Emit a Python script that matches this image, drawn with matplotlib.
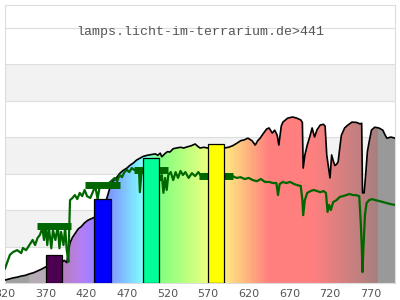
#!/usr/bin/env python3
# -*- coding: utf-8 -*-

import numpy as np
import matplotlib
matplotlib.use("Agg")
import matplotlib.pyplot as plt


# DATA (arbitrary units)
title = "lamps.licht-im-terrarium.de>441"

# reference spectrum (outlined, coloured by wavelength)
sun_nm = [320, 325, 330, 335, 340, 345, 350, 355, 360, 365, 370, 375, 380, 385,
          390, 393, 396, 398, 400, 403, 406, 410, 414, 418, 422, 426, 430, 435,
          440, 445, 449, 453, 457, 461, 465, 470, 474, 478, 482, 486, 490, 495,
          500, 505, 508, 511, 513, 517, 520, 523, 527, 531, 536, 540, 544, 549,
          554, 557, 560, 565, 569, 575, 580, 585, 590, 595, 600, 606, 610, 614,
          619, 624, 628, 631, 634, 638, 642, 645, 649, 652, 655, 657, 660, 662,
          668, 674, 679, 684, 686, 687, 689, 692, 695, 698, 701, 704, 708, 712,
          714, 716, 718, 720, 722, 724, 726, 728, 730, 732, 734, 738, 742, 747,
          753, 757, 759, 760, 762, 764, 766, 768, 771, 775, 780, 785, 788, 790,
          795, 800]
sun_val = [0.08, 0.11, 0.14, 0.16, 0.19, 0.21, 0.25, 0.28, 0.33, 0.38, 0.44, 0.48,
           0.52, 0.55, 0.58, 0.62, 0.56, 0.85, 1.10, 1.25, 1.35, 1.48, 1.55, 1.65,
           1.72, 1.76, 1.80, 1.90, 2.10, 2.30, 2.60, 2.80, 2.88, 3.00, 3.08, 3.15,
           3.23, 3.29, 3.37, 3.42, 3.47, 3.50, 3.52, 3.54, 3.50, 3.56, 3.46, 3.55,
           3.60, 3.59, 3.68, 3.70, 3.72, 3.70, 3.73, 3.76, 3.81, 3.75, 3.70, 3.72,
           3.70, 3.74, 3.72, 3.74, 3.70, 3.72, 3.76, 3.84, 3.90, 3.92, 3.97, 3.90,
           3.78, 3.90, 3.97, 4.10, 4.22, 4.25, 4.11, 4.19, 4.05, 3.78, 4.30, 4.41,
           4.52, 4.55, 4.52, 4.47, 4.40, 3.15, 3.50, 3.78, 4.00, 4.25, 4.00, 4.20,
           4.33, 4.35, 4.30, 3.51, 3.20, 2.88, 3.51, 3.35, 3.22, 3.25, 3.32, 3.70,
           4.05, 4.25, 4.33, 4.41, 4.40, 4.36, 4.38, 2.47, 2.47, 3.00, 3.60, 3.85,
           4.19, 4.27, 4.25, 4.19, 4.05, 3.97, 4.00, 3.97]

# lamp spectrum (green line)
lamp_nm = [320, 322, 326, 330, 335, 340, 342, 346, 350, 354, 357, 360, 363, 366,
           368, 370, 372, 374, 377, 379, 382, 385, 387, 389, 392, 394, 396, 398,
           400, 403, 406, 409, 412, 415, 418, 421, 425, 428, 431, 434, 437, 440,
           444, 448, 452, 455, 458, 461, 464, 467, 470, 473, 476, 479, 482, 485,
           486, 488, 492, 496, 500, 504, 508, 511, 513, 515, 517, 519, 521, 524,
           527, 530, 533, 536, 539, 542, 546, 550, 554, 558, 562, 566, 570, 575,
           580, 585, 590, 595, 600, 605, 610, 615, 620, 625, 630, 635, 640, 645,
           650, 654, 656, 658, 662, 666, 671, 676, 680, 684, 686, 687, 689, 692,
           696, 700, 704, 708, 712, 715, 717, 719, 721, 724, 728, 732, 736, 740,
           744, 748, 752, 756, 758, 759, 760, 761, 763, 765, 768, 772, 776, 780,
           785, 790, 795, 800]
lamp_val = [0.40, 0.52, 0.77, 0.85, 0.90, 0.82, 0.96, 0.90, 1.04, 1.18, 1.04, 1.23,
            1.32, 1.51, 1.18, 1.59, 1.04, 1.51, 0.95, 1.45, 1.18, 1.56, 0.95, 1.40,
            1.04, 1.51, 0.90, 0.58, 2.27, 2.33, 2.41, 2.30, 2.47, 2.38, 2.55, 2.38,
            2.33, 2.49, 2.66, 2.30, 2.71, 2.66, 2.71, 2.74, 2.82, 2.88, 2.79, 2.96,
            2.90, 3.04, 3.10, 3.04, 3.15, 3.10, 3.12, 3.07, 2.49, 3.04, 3.15, 3.10,
            3.18, 3.07, 3.15, 2.82, 2.96, 2.47, 2.88, 2.55, 2.96, 3.04, 2.82, 3.04,
            2.88, 3.07, 2.96, 3.04, 2.88, 3.01, 2.93, 3.04, 2.90, 2.99, 2.93, 2.99,
            2.96, 2.93, 2.99, 2.96, 2.93, 2.88, 2.90, 2.85, 2.88, 2.82, 2.79, 2.85,
            2.77, 2.77, 2.74, 2.74, 2.41, 2.71, 2.77, 2.74, 2.77, 2.71, 2.68, 2.66,
            2.27, 1.86, 2.27, 2.47, 2.52, 2.55, 2.52, 2.49, 2.52, 2.47, 1.95, 2.14,
            2.00, 2.22, 2.27, 2.36, 2.38, 2.41, 2.44, 2.41, 2.41, 2.38, 1.59, 1.04,
            0.30, 0.90, 1.86, 2.19, 2.27, 2.30, 2.27, 2.25, 2.22, 2.19, 2.16, 2.14]

# LED channels: bar height and band average (dark green markers)
bar_nm = [380, 440, 500, 580]
bar_val = [0.77, 2.30, 3.42, 3.81]
band_val = [1.56, 2.68, 3.10, 2.93]

x_ticks = [320, 370, 420, 470, 520, 570, 620, 670, 720, 770]


# COLOUR HELPERS
def wavelength_rgb(nm):
    """Rough visible-spectrum colour for a wavelength (nm)."""
    if 380 <= nm < 440:
        r, g, b = (440 - nm) / 60, 0.0, 1.0
    elif 440 <= nm < 490:
        r, g, b = 0.0, (nm - 440) / 50, 1.0
    elif 490 <= nm < 510:
        r, g, b = 0.0, 1.0, (510 - nm) / 20
    elif 510 <= nm < 580:
        r, g, b = (nm - 510) / 70, 1.0, 0.0
    elif 580 <= nm < 645:
        r, g, b = 1.0, (645 - nm) / 65, 0.0
    else:
        r, g, b = 1.0, 0.0, 0.0

    if nm < 420:
        f = 0.3 + 0.7 * (nm - 380) / 40
    elif nm > 700:
        f = 0.3 + 0.7 * (780 - nm) / 80
    else:
        f = 1.0
    return r * f, g * f, b * f


def fill_rgb(nm):
    if nm < 350:
        return (0.63, 0.63, 0.63)
    if nm < 380:
        return (0.71, 0.67, 0.71)
    if nm >= 780:
        return (0.60, 0.60, 0.60)
    r, g, b = wavelength_rgb(nm)
    return (0.5 + 0.5 * r, 0.5 + 0.5 * g, 0.5 + 0.5 * b)


# PLOT
x_min, x_max = 320, 800
y_top = 7.62

fig = plt.figure(figsize=(4, 3), dpi=100)
ax = fig.add_axes([5 / 400, 17 / 300, 390 / 400, 278 / 300])
ax.set_xlim(x_min, x_max)
ax.set_ylim(0, y_top)

# alternating background bands + grid
for lo in (1, 3, 5):
    ax.axhspan(lo, lo + 1, color="#f2f2f2", lw=0, zorder=0)
for yy in range(1, 8):
    ax.axhline(yy, color="#dddddd", lw=0.8, zorder=0.5)

# spectrum filled with wavelength colours
grad_nm = np.arange(x_min, x_max + 1)
grad = np.array([[fill_rgb(w) for w in grad_nm]])
im = ax.imshow(grad, extent=[x_min, x_max, 0, y_top], aspect="auto",
               interpolation="nearest", origin="lower", zorder=2)
poly = ax.fill_between(sun_nm, 0, sun_val, facecolor="none", lw=0, zorder=2)
im.set_clip_path(poly.get_paths()[0], transform=ax.transData)
ax.plot(sun_nm, sun_val, color="black", lw=1.2, zorder=3)

# lamp spectrum
ax.plot(lamp_nm, lamp_val, color="#006600", lw=1.6, zorder=4)

# band averages
bar_w = 20
ax.hlines(band_val, np.array(bar_nm) - 21, np.array(bar_nm) + 21,
          color="#006600", lw=5, zorder=5)

# LED bars
bar_colors = ["#4b0050", "#0000ff", "#00ff99", "#ffff00"]
ax.bar(bar_nm, bar_val, width=bar_w, color=bar_colors, edgecolor="black",
       linewidth=0.9, zorder=6)

ax.text(0.5, 0.902, title, transform=ax.transAxes, ha="center", va="center",
        family=["Liberation Mono", "DejaVu Sans Mono"], fontsize=9.5,
        color="#555555", zorder=7)

ax.set_xticks(x_ticks)
ax.set_xticklabels([str(t) for t in x_ticks])
ax.set_yticks([])
ax.tick_params(axis="x", length=0, pad=4, labelsize=8, labelcolor="#555555")
for side in ("left", "right", "top", "bottom"):
    ax.spines[side].set_color("#dddddd")
    ax.spines[side].set_linewidth(0.8)

fig.savefig("out.png", dpi=100)
plt.close(fig)
